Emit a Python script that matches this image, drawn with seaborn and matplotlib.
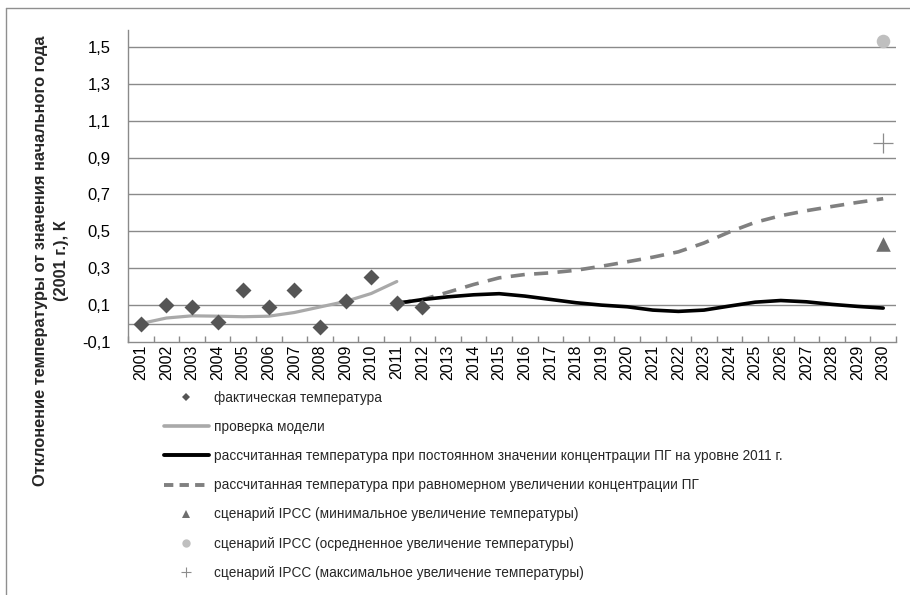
import matplotlib
matplotlib.use("Agg")
import matplotlib.pyplot as plt
from matplotlib.lines import Line2D
import numpy as np
import pandas as pd
import seaborn as sns

# ---- data -------------------------------------------------------------
years_all = list(range(2001, 2031))

obs_years = list(range(2001, 2013))
obs_temp = [0.00, 0.10, 0.09, 0.01, 0.18, 0.09, 0.18, -0.02, 0.12, 0.25, 0.11, 0.09]

model_years = list(range(2001, 2012))
model_temp = [0.00, 0.03, 0.042, 0.04, 0.037, 0.04, 0.06, 0.09, 0.12, 0.163, 0.228]

proj_years = list(range(2011, 2031))
const_temp = [0.11, 0.13, 0.145, 0.156, 0.162, 0.149, 0.131, 0.113, 0.100, 0.091,
              0.073, 0.066, 0.073, 0.095, 0.116, 0.125, 0.118, 0.104, 0.093, 0.084]
rise_temp = [0.11, 0.13, 0.17, 0.212, 0.248, 0.266, 0.275, 0.289, 0.311, 0.335,
             0.360, 0.389, 0.437, 0.497, 0.549, 0.585, 0.612, 0.635, 0.657, 0.677]

ipcc_year = [2030]
ipcc_min = [0.43]
ipcc_mid = [1.53]
ipcc_max = [0.98]

y_ticks = [-0.1, 0.1, 0.3, 0.5, 0.7, 0.9, 1.1, 1.3, 1.5]

labels = [
    "фактическая температура",
    "проверка модели",
    "рассчитанная температура при постоянном значении концентрации ПГ на уровне 2011 г.",
    "рассчитанная температура при равномерном увеличении концентрации ПГ",
    "сценарий IPCC (минимальное увеличение температуры)",
    "сценарий IPCC (осредненное увеличение температуры)",
    "сценарий IPCC (максимальное увеличение температуры)",
]
y_label = "Отклонение температуры от значения начального года\n(2001 г.), К"

# ---- style ------------------------------------------------------------
sns.set_theme(style="white")
plt.rcParams["font.family"] = ["Liberation Sans", "DejaVu Sans"]

C_OBS = "#555555"
C_MODEL = "#a9a9a9"
C_CONST = "#000000"
C_RISE = "#808080"
C_MIN = "#6e6e6e"
C_MID = "#bfbfbf"
C_MAX = "#8c8c8c"
C_GRID = "#8a8a8a"

fig = plt.figure(figsize=(9.10, 5.95), dpi=100)
ax = fig.add_axes([128 / 910, 1 - 342 / 595, (896 - 128) / 910, (342 - 30) / 595])

df_obs = pd.DataFrame({"year": obs_years, "t": obs_temp})
df_model = pd.DataFrame({"year": model_years, "t": model_temp})
df_const = pd.DataFrame({"year": proj_years, "t": const_temp})
df_rise = pd.DataFrame({"year": proj_years, "t": rise_temp})

# grid lines and zero line
for v in y_ticks[1:]:
    ax.axhline(v, color=C_GRID, lw=1.0, zorder=0)
ax.axhline(0.0, color=C_GRID, lw=1.0, zorder=0)

sns.lineplot(data=df_model, x="year", y="t", ax=ax, color=C_MODEL, lw=2.3,
             solid_capstyle="round", zorder=2)
sns.lineplot(data=df_rise, x="year", y="t", ax=ax, color=C_RISE, lw=2.6,
             dashes=False, zorder=3)
ax.lines[-1].set_dashes((3.9, 2.6))
sns.lineplot(data=df_const, x="year", y="t", ax=ax, color=C_CONST, lw=2.6,
             solid_capstyle="round", zorder=4)
sns.scatterplot(data=df_obs, x="year", y="t", ax=ax, marker="D", s=66,
                color=C_OBS, linewidth=0, zorder=5)
sns.scatterplot(x=ipcc_year, y=ipcc_min, ax=ax, marker="^", s=110,
                color=C_MIN, linewidth=0, zorder=5)
sns.scatterplot(x=ipcc_year, y=ipcc_mid, ax=ax, marker="o", s=95,
                color=C_MID, linewidth=0, zorder=5)
sns.scatterplot(x=ipcc_year, y=ipcc_max, ax=ax, marker="+", s=190,
                color=C_MAX, linewidth=0.9, zorder=5)

ax.set_xlim(2000.5, 2030.5)
ax.set_ylim(-0.1, 1.592)
ax.set_xticks(years_all)
ax.set_xticklabels([str(y) for y in years_all], rotation=90, fontsize=11.5)
ax.set_xticks(np.arange(2000.5, 2031.0, 1.0), minor=True)
ax.set_yticks(y_ticks)
ax.set_yticklabels([f"{v:.1f}".replace(".", ",") for v in y_ticks], fontsize=12)
ax.tick_params(axis="x", which="major", length=0, pad=2, colors="#000000")
ax.tick_params(axis="x", which="minor", length=4, width=1, direction="in",
               color=C_GRID, bottom=True)
ax.tick_params(axis="y", length=0, pad=12.5, colors="#000000")
ax.set_xlabel("")
ax.set_ylabel("")

for side in ["top", "right"]:
    ax.spines[side].set_visible(False)
for side in ["left", "bottom"]:
    ax.spines[side].set_color(C_GRID)
    ax.spines[side].set_linewidth(1.0)

fig.text(51 / 910, 1 - 261 / 595, y_label, rotation=90, ha="center",
         va="center", fontsize=11.8, fontweight="bold", multialignment="center",
         linespacing=1.5)

# chart border
fig.add_artist(Line2D([6 / 910, 6 / 910], [0, 1 - 8 / 595], color="#8f8f8f",
                      lw=1.0, transform=fig.transFigure))
fig.add_artist(Line2D([6 / 910, 1], [1 - 8 / 595, 1 - 8 / 595], color="#8f8f8f",
                      lw=1.0, transform=fig.transFigure))

# legend
handles = [
    Line2D([], [], ls="none", marker="D", ms=4.4, color=C_OBS, mew=0),
    Line2D([], [], color=C_MODEL, lw=2.6),
    Line2D([], [], color=C_CONST, lw=2.8),
    Line2D([], [], color=C_RISE, lw=2.8, dashes=(2.4, 1.6)),
    Line2D([], [], ls="none", marker="^", ms=6, color=C_MIN, mew=0),
    Line2D([], [], ls="none", marker="o", ms=6, color=C_MID, mew=0),
    Line2D([], [], ls="none", marker="+", ms=7, color=C_MAX, mew=0.8),
]
fig.legend(handles, labels, loc="upper left",
           bbox_to_anchor=(164 / 910, 1 - 391 / 595), frameon=False,
           prop={"family": ["Liberation Sans", "DejaVu Sans"], "size": 9.8},
           handlelength=3.3, handletextpad=0.35, labelspacing=1.11,
           borderpad=0, borderaxespad=0)

fig.savefig("out.png", dpi=100)
